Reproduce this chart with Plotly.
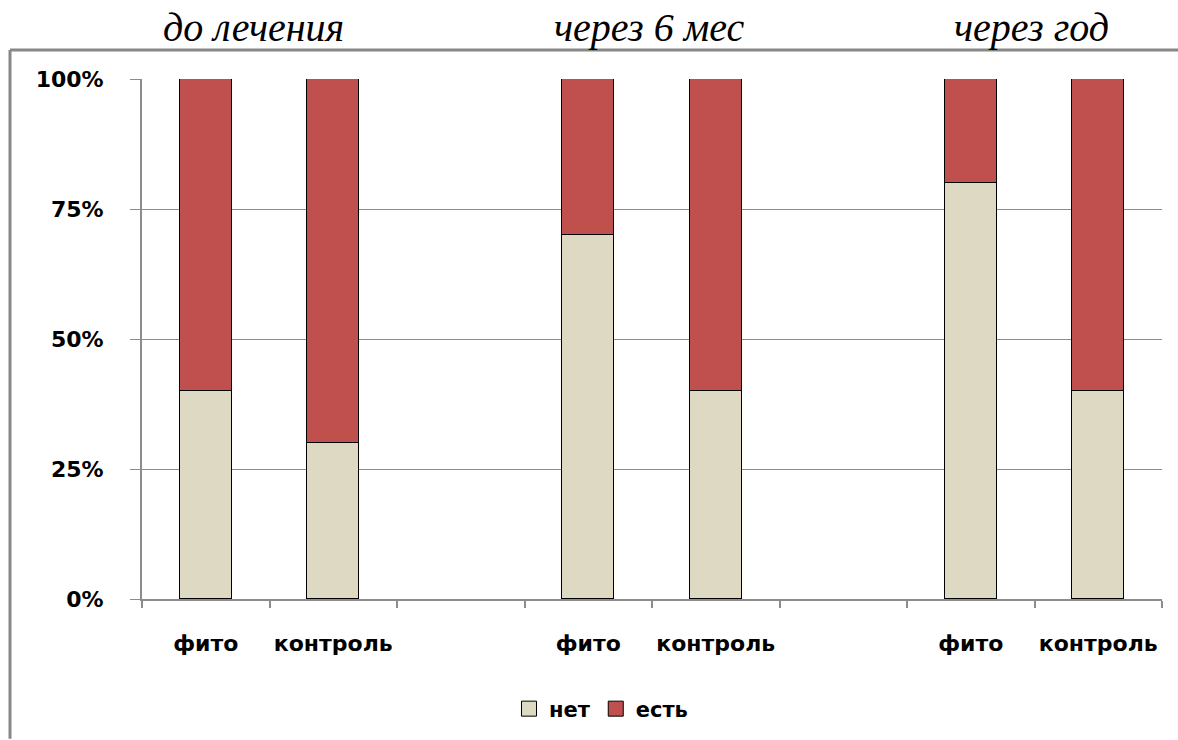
import plotly.graph_objects as go

# Category slots: three periods, two groups each, with an empty gap slot between periods
slot_labels = ["фито", "контроль", "", "фито", "контроль", "", "фито", "контроль"]
bar_slots = [0, 1, 3, 4, 6, 7]
net_values = [0.40, 0.30, 0.70, 0.40, 0.80, 0.40]    # "нет"
est_values = [0.60, 0.70, 0.30, 0.60, 0.20, 0.60]    # "есть"
series_names = ["нет", "есть"]
series_colors = ["#DDD9C3", "#C0504D"]
period_titles = ["до лечения", "через 6 мес", "через год"]
period_title_x = [253, 649, 1031]
y_ticks = [0, 0.25, 0.5, 0.75, 1.0]

W, H = 1178, 740
L, R, T, B = 142, 16, 79, 140
PW, PH = W - L - R, H - T - B

def px_x(p):
    return (p - L) / PW

def px_y(p):
    return (H - B - p) / PH

fig = go.Figure()
for name, vals, col in zip(series_names, [net_values, est_values], series_colors):
    fig.add_trace(go.Bar(x=bar_slots, y=vals, name=name, showlegend=False,
                         marker=dict(color=col, line=dict(color="black", width=1)),
                         width=0.41))
    # square legend key
    fig.add_trace(go.Scatter(x=[None], y=[None], name=name, mode="markers",
                             marker=dict(symbol="square", size=15, color=col,
                                         line=dict(color="black", width=1))))
# invisible trace carrying the category labels on the overlay axis
fig.add_trace(go.Scatter(x=list(range(len(slot_labels))), y=[0] * len(slot_labels),
                         xaxis="x2", mode="markers", marker=dict(opacity=0),
                         showlegend=False, hoverinfo="skip"))

grid = "#8c8c8c"
label_font = dict(family="DejaVu Sans", size=22, color="black", weight="bold")

fig.update_layout(
    width=W, height=H,
    margin=dict(l=L, r=R, t=T, b=B),
    paper_bgcolor="white", plot_bgcolor="white",
    barmode="stack", bargap=0,
    xaxis=dict(range=[-0.5, 7.5], tickvals=[i - 0.5 for i in range(9)],
               showticklabels=False, ticks="outside", ticklen=7, tickcolor=grid,
               tickwidth=2, showline=True, linecolor=grid, linewidth=2,
               showgrid=False, zeroline=False),
    xaxis2=dict(range=[-0.5, 7.5], overlaying="x", side="bottom", matches="x",
                tickvals=list(range(len(slot_labels))), ticktext=slot_labels,
                ticks="", showline=False, showgrid=False, zeroline=False,
                tickfont=label_font, ticklabelstandoff=29),
    yaxis=dict(range=[0, 1], tickvals=y_ticks, tickformat=".0%",
               ticks="outside", ticklen=10, tickcolor=grid, tickwidth=1,
               showline=True, linecolor=grid, linewidth=2,
               showgrid=True, gridcolor=grid, gridwidth=1, zeroline=False,
               tickfont=label_font, ticklabelstandoff=22),
    legend=dict(orientation="h", x=px_x(509), xanchor="left", y=px_y(709), yanchor="middle",
                font=dict(family="DejaVu Sans", size=21, color="black", weight="bold"),
                itemwidth=30, traceorder="normal", tracegroupgap=0),
    showlegend=True,
)

# frame around the chart area (left and top edges visible)
fig.add_shape(type="line", xref="paper", yref="paper",
              x0=px_x(10), x1=px_x(10), y0=px_y(50), y1=px_y(H),
              line=dict(color="#888888", width=3))
fig.add_shape(type="line", xref="paper", yref="paper",
              x0=px_x(10), x1=px_x(W), y0=px_y(50), y1=px_y(50),
              line=dict(color="#888888", width=3))

for title, tx in zip(period_titles, period_title_x):
    fig.add_annotation(text=title, xref="paper", yref="paper",
                       x=px_x(tx), y=px_y(27), xanchor="center", yanchor="middle",
                       showarrow=False,
                       font=dict(family="Liberation Serif", size=40, color="black",
                                 style="italic"))

fig.write_html("out.html")
